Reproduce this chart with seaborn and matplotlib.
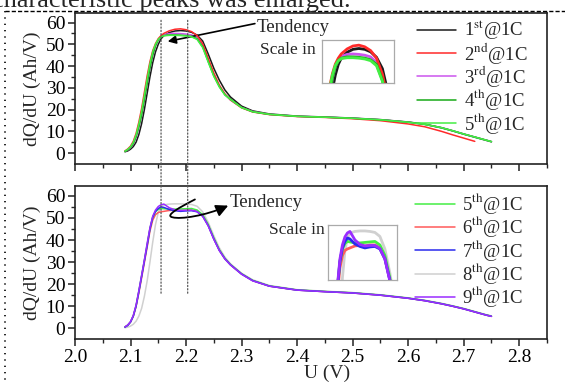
import matplotlib
matplotlib.use("Agg")
import numpy as np
import matplotlib.pyplot as plt
import seaborn as sns
from matplotlib.lines import Line2D
from matplotlib.patches import ConnectionPatch, FancyArrowPatch
from matplotlib.path import Path

# -----------------------------------------------------
# DATA
# -----------------------------------------------------

U = [2.09, 2.095, 2.10, 2.105, 2.11, 2.115, 2.12, 2.125, 2.13, 2.135,
     2.14, 2.145, 2.15, 2.155, 2.16, 2.17, 2.18, 2.19, 2.20, 2.21,
     2.22, 2.23, 2.24, 2.25, 2.26, 2.27, 2.28, 2.30, 2.32, 2.35,
     2.40, 2.45, 2.50, 2.55, 2.60, 2.63, 2.66, 2.68, 2.70, 2.72,
     2.74, 2.75]

# upper panel, cycles 1-5
cycle1 = [0.6, 1.0, 1.8, 3.0, 5.0, 8.5, 13.5, 20, 27.5, 35,
          41.5, 46.5, 50.0, 52.5, 54.0, 55.4, 56.1, 56.3, 56.1, 55.5,
          54.2, 51.5, 45.5, 39, 33.5, 29.0, 25.8, 21.6, 19.4, 18.0,
          17.0, 16.6, 16.1, 15.4, 14.3, 13.3, 11.7, 10.3, 8.8, 7.4,
          6.0, 5.3]
cycle2 = [1.0, 1.9, 3.2, 5.4, 9.0, 14.2, 20.5, 28, 35.5, 42,
          47, 50.3, 52.6, 54.0, 55.0, 56.2, 56.9, 57.1, 56.7, 55.8,
          54.0, 50.2, 43.5, 36.8, 31.2, 27.2, 24.4, 20.8, 18.9, 17.7,
          16.8, 16.4, 15.8, 14.9, 13.4, 12.1, 10.0, 8.4, 6.9, 5.4,
          np.nan, np.nan]
cycle3 = [0.8, 1.4, 2.5, 4.2, 7.2, 11.8, 17.5, 24.5, 32, 39,
          45, 49.2, 52.0, 53.6, 54.4, 54.9, 55.0, 54.9, 54.7, 54.3,
          53.0, 49.5, 42.5, 36, 31, 27.0, 24.4, 21.0, 19.1, 17.8,
          16.9, 16.5, 16.0, 15.3, 14.2, 13.2, 11.6, 10.2, 8.7, 7.3,
          5.9, 5.2]
cycle4 = [0.8, 1.5, 2.6, 4.4, 7.5, 12.0, 17.5, 24.5, 32, 39,
          45, 49.3, 52.0, 53.4, 54.0, 54.3, 54.3, 54.2, 54.0, 53.6,
          52.5, 48.8, 42, 35.5, 30.5, 26.8, 24.8, 21.0, 19.0, 17.8,
          16.9, 16.5, 16.0, 15.3, 14.2, 13.2, 11.6, 10.2, 8.7, 7.3,
          5.9, 5.2]
cycle5 = [0.9, 1.7, 2.9, 4.9, 8.3, 13.2, 19.2, 26.5, 34, 41,
          46.5, 50.0, 52.3, 53.4, 53.9, 54.1, 54.1, 54.0, 53.8, 53.4,
          52.2, 48.5, 41.8, 35.3, 30.4, 26.7, 24.6, 20.9, 19.0, 17.8,
          16.9, 16.5, 16.0, 15.3, 14.2, 13.2, 11.7, 10.3, 8.8, 7.4,
          6.0, 5.3]

# lower panel, cycles 5-9
cycle5_low = [0.6, 1.4, 2.9, 5.6, 10.2, 16.8, 23.8, 30.8, 38, 45.2,
              50.3, 52.8, 53.9, 54.3, 54.2, 54.0, 54.0, 54.1, 54.2, 54.3,
              53.6, 51.5, 47, 41, 35.6, 31.7, 28.9, 24.7, 21.7, 19.2,
              17.4, 16.7, 16.1, 15.1, 13.7, 12.6, 11.2, 10.1, 8.9, 7.5,
              6.1, 5.5]
cycle6 = [0.6, 1.4, 2.8, 5.4, 9.8, 16, 22.8, 29.8, 36.8, 44,
          49, 51.5, 52.5, 52.8, 53.0, 53.4, 53.5, 53.4, 53.6, 53.6,
          53.0, 51.0, 46.6, 40.6, 35.4, 31.5, 28.8, 24.6, 21.6, 19.1,
          17.3, 16.6, 16.0, 15.0, 13.6, 12.5, 11.1, 10.0, 8.8, 7.4,
          6.0, 5.4]
cycle7 = [0.5, 1.3, 2.8, 5.5, 10.0, 16.5, 23.5, 30.5, 37.5, 45.0,
          50.3, 53.0, 54.3, 55.0, 54.8, 53.8, 53.3, 53.0, 53.2, 53.3,
          52.8, 50.8, 46.5, 40.5, 35.3, 31.5, 28.8, 24.6, 21.6, 19.1,
          17.3, 16.6, 16.0, 15.0, 13.6, 12.5, 11.1, 10.0, 8.8, 7.4,
          6.0, 5.4]
cycle8 = [0.2, 0.5, 1.0, 1.8, 3.2, 5.5, 9.0, 14.5, 21.5, 30,
          39, 47, 52.5, 55.0, 56.0, 56.3, 56.4, 56.4, 56.3, 56.1,
          55.3, 52.8, 48, 42, 36.5, 32.3, 29.3, 25.0, 22.0, 19.4,
          17.5, 16.8, 16.2, 15.2, 13.8, 12.7, 11.3, 10.2, 9.0, 7.6,
          6.2, 5.6]
cycle9 = [0.6, 1.5, 3.0, 5.8, 10.5, 17, 24, 31, 38.5, 45.5,
          50.8, 53.6, 55.2, 56.0, 56.3, 54.6, 53.7, 53.4, 53.5, 53.5,
          52.9, 50.8, 46.4, 40.4, 35.2, 31.4, 28.7, 24.5, 21.5, 19.1,
          17.3, 16.6, 16.0, 15.0, 13.6, 12.5, 11.1, 10.0, 8.8, 7.4,
          6.0, 5.4]

top_labels = [r"1$^{\rm st}$@1C", r"2$^{\rm nd}$@1C", r"3$^{\rm rd}$@1C",
              r"4$^{\rm th}$@1C", r"5$^{\rm th}$@1C"]
bot_labels = [r"5$^{\rm th}$@1C", r"6$^{\rm th}$@1C", r"7$^{\rm th}$@1C",
              r"8$^{\rm th}$@1C", r"9$^{\rm th}$@1C"]

top_series = [cycle1, cycle2, cycle3, cycle4, cycle5]
bot_series = [cycle5_low, cycle6, cycle7, cycle8, cycle9]

top_colors = ["#1a1a1a", "#ff2a2a", "#cc55ee", "#18aa18", "#44ee44"]
bot_colors = ["#44ee44", "#ff5a5a", "#2a2aee", "#d0d0d0", "#9a2cff"]
top_z = [2, 4, 3, 5, 6]
bot_z = [4, 3, 5, 2, 6]

# -----------------------------------------------------
# STYLE
# -----------------------------------------------------

sns.set_theme(style="ticks")
plt.rcParams["font.family"] = ["Liberation Serif", "DejaVu Serif"]
plt.rcParams["mathtext.fontset"] = "stix"
plt.rcParams["axes.linewidth"] = 1.2
plt.rcParams["axes.edgecolor"] = "#222222"

FS = 14

fig = plt.figure(figsize=(5.65, 3.83), dpi=100)
ax1 = fig.add_axes([0.1327, 0.5718, 0.8354, 0.3950])
ax2 = fig.add_axes([0.1327, 0.1141, 0.8354, 0.4003])


def draw_panel(ax, series, labels, colors, zs, lw=1.1):
    for y, lab, c, z in zip(series, labels, colors, zs):
        sns.lineplot(x=U, y=y, ax=ax, color=c, lw=lw, label=lab,
                     zorder=z, errorbar=None, sort=False)


def draw_inset(ax, rect, series, colors, zs, xlim, ylim):
    ins = ax.inset_axes(rect)
    for y, c, z in zip(series, colors, zs):
        sns.lineplot(x=U, y=y, ax=ins, color=c, lw=2.0, zorder=z,
                     errorbar=None, sort=False, legend=False)
    ins.set_xlim(*xlim)
    ins.set_ylim(*ylim)
    ins.set_xticks([])
    ins.set_yticks([])
    ins.set_xlabel("")
    ins.set_ylabel("")
    for sp in ins.spines.values():
        sp.set_color("#aaaaaa")
        sp.set_linewidth(0.9)
    return ins


draw_panel(ax1, top_series, top_labels, top_colors, top_z)
draw_panel(ax2, bot_series, bot_labels, bot_colors, bot_z)

for ax in (ax1, ax2):
    ax.set_xlim(2.0, 2.849)
    ax.set_ylim(-5, 64.5)
    ax.set_xticks(np.arange(2.0, 2.81, 0.1))
    ax.set_xticks(np.arange(2.05, 2.85, 0.1), minor=True)
    ax.set_yticks(np.arange(0, 61, 10))
    ax.set_yticks(np.arange(5, 61, 10), minor=True)
    ax.tick_params(which="major", direction="out", length=5, width=1.1,
                   labelsize=FS, pad=2, colors="#222222")
    ax.tick_params(which="minor", direction="out", length=3, width=1.0)
    ax.set_ylabel("dQ/dU (Ah/V)", fontsize=FS)
    ax.yaxis.set_label_coords(-0.072, 0.5)
    for t in ax.get_xticklabels() + ax.get_yticklabels():
        t.set_color("black")

ax1.set_xticklabels([])
ax1.set_xlabel("")
ax2.set_xticklabels([f"{v:.1f}" for v in np.arange(2.0, 2.81, 0.1)])
ax2.set_xlabel("U (V)", fontsize=FS)
ax2.xaxis.set_label_coords(0.534, -0.165)

# legends
leg_kw = dict(loc="upper left", frameon=False, fontsize=13.5,
              handlelength=2.1, handletextpad=0.4, labelspacing=-0.09,
              borderaxespad=0)
ax1.legend(bbox_to_anchor=(0.708, 1.01), **leg_kw)
ax2.legend(bbox_to_anchor=(0.705, 1.015), **leg_kw)

# insets with the enlarged peaks
draw_inset(ax1, [0.523, 0.533, 0.152, 0.286], top_series, top_colors, top_z,
           (2.127, 2.249), (48, 58.3))
draw_inset(ax2, [0.537, 0.387, 0.145, 0.359], bot_series, bot_colors, bot_z,
           (2.117, 2.254), (46.6, 57.6))

# annotations
ax1.text(2.327, 57.8, "Tendency", fontsize=13.5, va="center", ha="left")
ax1.text(2.334, 47.3, "Scale in", fontsize=12.5, va="center", ha="left")
ax1.annotate("", xy=(2.167, 51.3), xytext=(2.324, 59.5),
             arrowprops=dict(arrowstyle="-|>", color="black", lw=1.2,
                             mutation_scale=12, shrinkA=0, shrinkB=0))

ax2.text(2.279, 57.0, "Tendency", fontsize=13.5, va="center", ha="left")
ax2.text(2.349, 44.7, "Scale in", fontsize=12.5, va="center", ha="left")
loop = Path([(2.216, 58.4), (2.19, 55.0), (2.16, 51.0), (2.176, 50.3),
             (2.19, 49.3), (2.235, 51.0), (2.276, 55.6)],
            [Path.MOVETO, Path.CURVE4, Path.CURVE4, Path.CURVE4,
             Path.CURVE4, Path.CURVE4, Path.CURVE4])
ax2.add_patch(FancyArrowPatch(path=loop, arrowstyle="-|>", color="black",
                              lw=1.3, mutation_scale=18, zorder=8))

# dotted guide lines through both panels
for xv in (2.155, 2.203):
    con = ConnectionPatch(xyA=(xv, 61), coordsA=ax1.transData,
                          xyB=(xv, 15), coordsB=ax2.transData,
                          linestyle=":", color="#555555", lw=0.9)
    fig.add_artist(con)

# page bits around the figure (caption cut-off, frame lines)
fig.text(-0.014, 1 - 7 / 383, "characteristic peaks was enlarged.",
         fontsize=19, va="baseline", ha="left")
fig.add_artist(Line2D([5 / 565, 1.0], [0.972, 0.972], transform=fig.transFigure,
                      color="black", lw=1.0, dashes=(3, 1.5)))
fig.add_artist(Line2D([5 / 565, 5 / 565], [0.972, 0.0], transform=fig.transFigure,
                      color="black", lw=1.2, dashes=(0.8, 3)))

fig.savefig("out.png", dpi=100)
